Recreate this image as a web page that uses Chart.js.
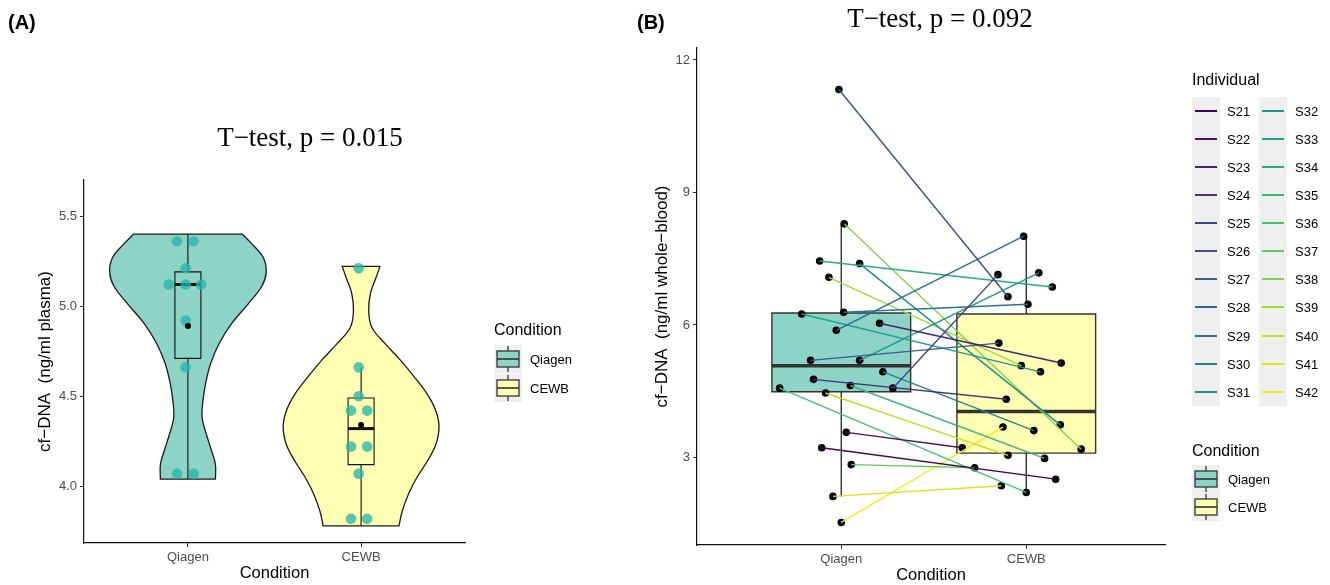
<!DOCTYPE html>
<html>
<head>
<meta charset="utf-8">
<title>cf-DNA</title>
<script src="https://cdn.jsdelivr.net/npm/chart.js@4.4.1/dist/chart.umd.min.js"></script>
<style>
  body { margin: 0; background: #fff; }
  #page { position: relative; width: 1330px; height: 585px; overflow: hidden; font-family: "Liberation Sans", Arial, sans-serif; color: #000; }
  canvas { position: absolute; top: 0; }
  .t { position: absolute; white-space: nowrap; line-height: 1; transform: translateY(-50%); }
  .ttl { font-family: "Liberation Serif", "Times New Roman", serif; font-size: 27px; transform: translate(-50%, -50%); }
  .tag { font-weight: bold; font-size: 20px; }
  .lgt { font-size: 16px; }
  .lab { font-size: 13px; }
  .strip { position: absolute; background: #efefef; }
  .key { position: absolute; }
  .kline { position: absolute; width: 22px; height: 2px; }
</style>
</head>
<body>
<div id="page">
  <canvas id="chartA" width="630" height="585" style="left:0"></canvas>
  <canvas id="chartB" width="690" height="585" style="left:640px"></canvas>
  <div class="t tag" style="left:8px;top:22px">(A)</div>
  <div class="t tag" style="left:637px;top:22px">(B)</div>
  <div class="t ttl" style="left:310px;top:137px">T−test, p = 0.015</div>
  <div class="t ttl" style="left:940px;top:18px">T−test, p = 0.092</div>
  <div id="legends"></div>
</div>
<script>
Chart.defaults.font.family = '"Liberation Sans", Arial, sans-serif';

const conditions = ['Qiagen', 'CEWB'];

// ---- (A) cf-DNA, ng/ml plasma ----
const qiagenPlasma = [5.36, 5.36, 5.21, 5.12, 5.12, 5.12, 4.92, 4.66, 4.07, 4.07];
const qiagenPlasmaDodge = [-0.063, 0.033, -0.013, -0.110, -0.013, 0.077, -0.013, -0.013, -0.063, 0.033];
const cewbPlasma = [5.21, 4.66, 4.50, 4.42, 4.42, 4.22, 4.22, 4.07, 3.82, 3.82];
const cewbPlasmaDodge = [-0.014, -0.014, -0.014, -0.058, 0.035, -0.058, 0.035, -0.014, -0.058, 0.035];

// box / mean (Qiagen, CEWB)
const plasmaLower = [4.04, 3.78];
const plasmaQ1 = [4.71, 4.12];
const plasmaMedian = [5.12, 4.32];
const plasmaQ3 = [5.19, 4.49];
const plasmaUpper = [5.40, 4.66];
const plasmaMean = [4.89, 4.34];

// violin outline: half width (x units) at each level
const qiagenViolinY = [4.04, 4.12, 4.19, 4.29, 4.38, 4.46, 4.57, 4.68, 4.79, 4.90, 5.01, 5.11, 5.19, 5.27, 5.34, 5.40];
const qiagenViolinW = [0.159, 0.159, 0.139, 0.106, 0.082, 0.085, 0.102, 0.131, 0.179, 0.250, 0.346, 0.427, 0.452, 0.435, 0.375, 0.313];
const cewbViolinY = [3.78, 3.86, 3.96, 4.05, 4.14, 4.23, 4.33, 4.42, 4.51, 4.60, 4.70, 4.79, 4.88, 4.97, 5.07, 5.16, 5.22];
const cewbViolinW = [0.219, 0.237, 0.275, 0.323, 0.383, 0.431, 0.450, 0.431, 0.383, 0.313, 0.227, 0.140, 0.063, 0.044, 0.054, 0.087, 0.109];

const plasmaTicks = [4.0, 4.5, 5.0, 5.5];

// ---- (B) cf-DNA, ng/ml whole blood, paired ----
const individuals = ['S21', 'S22', 'S23', 'S24', 'S25', 'S26', 'S27', 'S28', 'S29', 'S30', 'S31',
  'S32', 'S33', 'S34', 'S35', 'S36', 'S37', 'S38', 'S39', 'S40', 'S41', 'S42'];
const qiagenBlood = [3.22, 3.57, 6.04, 4.77, 4.57, 11.33, 5.20, 5.88, 6.29, 4.94, 7.39,
  5.20, 6.25, 7.45, 4.63, 4.57, 2.84, 8.29, 7.08, 4.46, 2.12, 1.53];
const cewbBlood = [2.51, 3.22, 5.14, 4.32, 7.14, 6.64, 5.59, 8.01, 6.47, 3.61, 3.74,
  7.18, 4.94, 6.86, 2.98, 2.21, 2.77, 3.19, 5.08, 3.05, 2.36, 3.69];
const qiagenJitter = [-0.106, 0.027, 0.207, -0.150, 0.279, -0.013, -0.166, -0.027, 0.013, 0.225, 0.099,
  0.099, -0.214, -0.117, 0.049, -0.333, 0.054, 0.016, -0.067, -0.085, -0.045, 0.000];
const cewbJitter = [0.159, -0.346, 0.189, -0.108, -0.153, -0.099, -0.148, -0.014, 0.009, 0.041, 0.184,
  0.068, 0.077, 0.141, 0.099, 0.000, -0.279, 0.297, -0.027, -0.099, -0.135, -0.126];

const bloodLower = [2.12, 2.21];
const bloodQ1 = [4.49, 3.10];
const bloodMedian = [5.08, 4.04];
const bloodQ3 = [6.27, 6.25];
const bloodUpper = [8.29, 8.01];

const bloodTicks = [3, 6, 9, 12];

// styles
const fills = ['#8DD3C7', '#FFFFB3'];
const dotColor = 'rgba(38,182,168,0.78)';
const viridis22 = ['#440154', '#471264', '#482374', '#46327F', '#424186', '#3D4F8A', '#375B8D', '#31688E',
  '#2C738E', '#277F8E', '#238A8D', '#20968B', '#1FA188', '#27AD81', '#35B779', '#48C16E', '#63CB5F',
  '#7FD34E', '#9FDA3A', '#BFDF25', '#E0E318', '#FDE725'];

const seg = (data, color, width, order, extra) => Object.assign({
  type: 'line', data, borderColor: color, borderWidth: width, pointRadius: 0,
  fill: false, tension: 0, order, borderCapStyle: 'square', borderJoinStyle: 'miter'
}, extra || {});

// closed outline, corners repeated so the flat ends stay sharp
function violinPath(center, levels, widths) {
  const left = levels.map((y, i) => ({ x: center - widths[i], y }));
  const right = levels.map((y, i) => ({ x: center + widths[i], y })).reverse();
  const n = left.length;
  return [left[0], ...left, left[n - 1], right[0], ...right, right[n - 1], left[0]];
}

function boxPath(c, half, lo, hi) {
  return [{ x: c - half, y: lo }, { x: c + half, y: lo }, { x: c + half, y: hi }, { x: c - half, y: hi }, { x: c - half, y: lo }];
}

function boxParts(q1, med, q3, lower, upper, half, color, lw, medW, fillCols, order) {
  const out = [];
  conditions.forEach((c, i) => {
    const x = i + 1;
    out.push(seg([{ x, y: lower[i] }, { x, y: q1[i] }], color, lw, order + 1, { borderCapStyle: 'butt' }));
    out.push(seg([{ x, y: q3[i] }, { x, y: upper[i] }], color, lw, order + 1, { borderCapStyle: 'butt' }));
    out.push(seg(boxPath(x, half, q1[i], q3[i]), color, lw, order + 1,
      fillCols ? { fill: 'shape', backgroundColor: fillCols[i] } : {}));
    out.push(seg([{ x: x - half, y: med[i] }, { x: x + half, y: med[i] }], color, medW, order, { borderCapStyle: 'butt' }));
  });
  return out;
}

function xAxis(min, max, height, titlePad) {
  return {
    type: 'linear', min, max,
    afterBuildTicks: s => { s.ticks = conditions.map((c, i) => ({ value: i + 1 })); },
    afterFit: s => { s.height = height; },
    ticks: { callback: v => conditions[v - 1], color: '#4d4d4d', font: { size: 13 }, padding: 3, maxRotation: 0, autoSkip: false },
    grid: { drawOnChartArea: false, tickLength: 4, tickColor: '#333', tickWidth: 1 },
    border: { color: '#111', width: 1.2 },
    title: { display: true, text: 'Condition', color: '#000', font: { size: 16.5 }, padding: { top: 0, bottom: titlePad } }
  };
}

function yAxis(min, max, ticks, fmt, width, text, titlePad) {
  return {
    type: 'linear', min, max,
    afterBuildTicks: s => { s.ticks = ticks.map(v => ({ value: v })); },
    afterFit: s => { s.width = width; },
    ticks: { callback: fmt, color: '#4d4d4d', font: { size: 13 }, padding: 3 },
    grid: { drawOnChartArea: false, tickLength: 4, tickColor: '#333', tickWidth: 1 },
    border: { color: '#111', width: 1.2 },
    title: { display: true, text, color: '#000', font: { size: 17 }, padding: { top: titlePad, bottom: 0 } }
  };
}

const common = {
  responsive: false, animation: false, events: [],
  plugins: { legend: { display: false }, tooltip: { enabled: false } }
};

// ---- chart A ----
const dotsA = [
  ...qiagenPlasma.map((y, i) => ({ x: 1 + qiagenPlasmaDodge[i], y })),
  ...cewbPlasma.map((y, i) => ({ x: 2 + cewbPlasmaDodge[i], y }))
];

new Chart(document.getElementById('chartA'), {
  type: 'line',
  data: {
    datasets: [
      seg(violinPath(1, qiagenViolinY, qiagenViolinW), '#1a1a1a', 1.3, 20,
        { fill: 'shape', backgroundColor: fills[0], tension: 0.35, borderJoinStyle: 'round' }),
      seg(violinPath(2, cewbViolinY, cewbViolinW), '#1a1a1a', 1.3, 20,
        { fill: 'shape', backgroundColor: fills[1], tension: 0.35, borderJoinStyle: 'round' }),
      ...boxParts(plasmaQ1, plasmaMedian, plasmaQ3, plasmaLower, plasmaUpper, 0.075, '#111', 1.1, 3, null, 8),
      { type: 'line', data: dotsA, showLine: false, pointRadius: 5.3, pointBorderWidth: 0,
        pointBackgroundColor: dotColor, order: 2 },
      { type: 'line', data: plasmaMean.map((y, i) => ({ x: i + 1, y })), showLine: false,
        pointRadius: 3, pointBorderWidth: 0, pointBackgroundColor: '#000', order: 1 }
    ]
  },
  options: Object.assign({}, common, {
    layout: { padding: { top: 180, right: 165, bottom: 0, left: 0 } },
    scales: {
      x: xAxis(0.4, 2.6, 42, 2),
      y: yAxis(3.685, 5.70, plasmaTicks, v => v.toFixed(1), 84, 'cf−DNA  (ng/ml plasma)', 35)
    }
  })
});

// ---- chart B ----
const pointsB = [
  ...qiagenBlood.map((y, i) => ({ x: 1 + qiagenJitter[i], y })),
  ...cewbBlood.map((y, i) => ({ x: 2 + cewbJitter[i], y }))
];
const pairLines = individuals.map((name, i) => ({
  type: 'line', label: name,
  data: [{ x: 1 + qiagenJitter[i], y: qiagenBlood[i] }, { x: 2 + cewbJitter[i], y: cewbBlood[i] }],
  borderColor: viridis22[i], borderWidth: 1.4, pointRadius: 0, fill: false, order: 1
}));

new Chart(document.getElementById('chartB'), {
  type: 'line',
  data: {
    datasets: [
      ...boxParts(bloodQ1, bloodMedian, bloodQ3, bloodLower, bloodUpper, 0.375, '#333', 1.4, 3.5, fills, 8),
      { type: 'line', data: pointsB, showLine: false, pointRadius: 3.8, pointBorderWidth: 0,
        pointBackgroundColor: '#000', order: 3 },
      ...pairLines
    ]
  },
  options: Object.assign({}, common, {
    layout: { padding: { top: 48, right: 165, bottom: 0, left: 0 } },
    scales: {
      x: xAxis(0.22, 2.75, 40, 0),
      y: yAxis(1.02, 12.27, bloodTicks, v => String(v), 57, 'cf−DNA  (ng/ml whole−blood)', 12)
    }
  })
});

// ---- legends ----
const legend = document.getElementById('legends');
function addText(cls, text, left, top) {
  const d = document.createElement('div');
  d.className = 't ' + cls;
  d.textContent = text;
  d.style.left = left + 'px';
  d.style.top = top + 'px';
  legend.appendChild(d);
}
function boxKey(fill, left, top) {
  const d = document.createElement('div');
  d.className = 'key';
  d.style.left = left + 'px';
  d.style.top = top + 'px';
  d.innerHTML = '<svg width="28" height="28" viewBox="0 0 28 28">' +
    '<rect x="0" y="0" width="28" height="28" fill="#efefef"/>' +
    '<line x1="14" y1="1" x2="14" y2="6" stroke="#333" stroke-width="1.3"/>' +
    '<rect x="3" y="6" width="22" height="16" fill="' + fill + '" stroke="#333" stroke-width="1.3"/>' +
    '<line x1="3" y1="14" x2="25" y2="14" stroke="#333" stroke-width="1.6"/>' +
    '<line x1="14" y1="22" x2="14" y2="27" stroke="#333" stroke-width="1.3"/></svg>';
  legend.appendChild(d);
}

// A: Condition
addText('lgt', 'Condition', 494, 330);
conditions.forEach((c, i) => {
  boxKey(fills[i], 494, 345 + i * 29);
  addText('lab', c, 530, 359 + i * 29);
});

// B: Individual (two columns)
addText('lgt', 'Individual', 1192, 80);
[1192, 1259].forEach(left => {
  const s = document.createElement('div');
  s.className = 'strip';
  s.style.left = left + 'px';
  s.style.top = '97px';
  s.style.width = '28px';
  s.style.height = '309px';
  legend.appendChild(s);
});
individuals.forEach((name, i) => {
  const col = i < 11 ? 0 : 1;
  const row = i % 11;
  const cy = Math.round(111 + row * 28.07);
  const kx = col ? 1259 : 1192;
  const ln = document.createElement('div');
  ln.className = 'kline';
  ln.style.left = (kx + 3) + 'px';
  ln.style.top = (cy - 1) + 'px';
  ln.style.backgroundColor = viridis22[i];
  legend.appendChild(ln);
  addText('lab', name, col ? 1295 : 1227, cy);
});

// B: Condition
addText('lgt', 'Condition', 1192, 451);
conditions.forEach((c, i) => {
  boxKey(fills[i], 1192, 465 + i * 28);
  addText('lab', c, 1228, 479 + i * 28);
});
</script>
</body>
</html>
